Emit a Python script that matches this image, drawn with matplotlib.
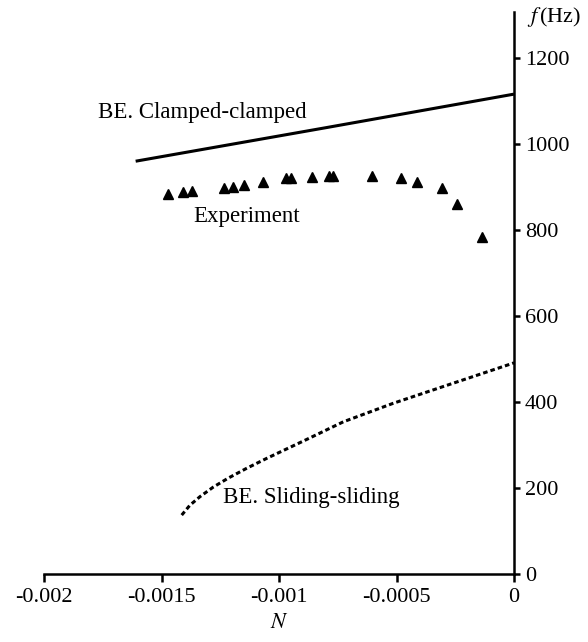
import matplotlib
matplotlib.use('Agg')
import matplotlib.pyplot as plt

plt.rcParams['font.family'] = ['Liberation Serif', 'DejaVu Serif']
plt.rcParams['mathtext.fontset'] = 'stix'

# BE. Clamped-clamped (solid line)
clamped_N = [-0.00161, -0.0008, 0.0]
clamped_f = [960, 1038, 1116]

# Experiment (triangles)
exp_N = [-0.001474, -0.001410, -0.001370, -0.001233, -0.001194, -0.001149,
         -0.001069, -0.000970, -0.000950, -0.000858, -0.000786, -0.000769,
         -0.000603, -0.000482, -0.000411, -0.000306, -0.000241, -0.000137]
exp_f = [884, 889, 891, 898, 901, 905, 912, 921, 921, 923, 926, 925,
         926, 921, 912, 898, 861, 784]

# BE. Sliding-sliding (dashed line)
sliding_N = [-0.001414, -0.001379, -0.001336, -0.001280, -0.001216, -0.001137,
             -0.001052, -0.000967, -0.000882, -0.000726, -0.000514, -0.000301, 0.0]
sliding_f = [137, 160, 180, 202, 223, 246, 269, 291, 313, 354, 397, 436, 491]

xticks = [-0.002, -0.0015, -0.001, -0.0005, 0]
xlabels = ['-0.002', '-0.0015', '-0.001', '-0.0005', '0']
yticks = [0, 200, 400, 600, 800, 1000, 1200]

fig = plt.figure(figsize=(5.88, 6.42), dpi=100)
ax = fig.add_axes([44/588, 1 - 574/642, 470/588, 562/642])

ax.plot(clamped_N, clamped_f, color='black', lw=2.2, solid_capstyle='butt')
ax.plot(exp_N, exp_f, linestyle='none', marker='^', color='black', ms=7)
ax.plot(sliding_N, sliding_f, color='black', lw=2.2, linestyle=(0, (1.5, 1.0)))

ax.set_xlim(-0.002, 0)
ax.set_ylim(0, 1307)

ax.spines['top'].set_visible(False)
ax.spines['left'].set_visible(False)
ax.spines['right'].set_linewidth(1.8)
ax.spines['bottom'].set_linewidth(1.8)

ax.set_xticks(xticks)
ax.set_xticklabels(xlabels)
ax.set_yticks(yticks)
ax.yaxis.tick_right()
ax.tick_params(axis='x', direction='out', length=6, width=1.8, labelsize=16, pad=4)
ax.tick_params(axis='y', direction='out', length=4, width=1.8, labelsize=16, pad=4)

ax.text(-0.00177, 1060, 'BE. Clamped-clamped', fontsize=16.5, va='baseline', ha='left')
ax.text(-0.001366, 818, 'Experiment', fontsize=16.5, va='baseline', ha='left')
ax.text(-0.001238, 165, 'BE. Sliding-sliding', fontsize=16.5, va='baseline', ha='left')

fig.text(527/588, 1 - 17/642, r'$f\,$(Hz)', fontsize=16, va='center', ha='left')
fig.text(279/588, 1 - 623/642, r'$N$', fontsize=16, va='center', ha='center')

fig.savefig('out.png', dpi=100)
